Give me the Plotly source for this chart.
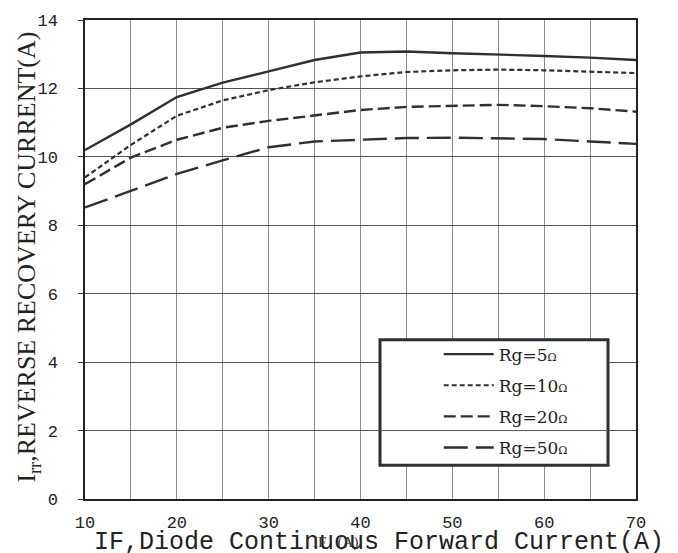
import plotly.graph_objects as go

IF = [10, 15, 20, 25, 30, 35, 40, 45, 50, 55, 60, 65, 70]
rg5 = [10.2, 10.95, 11.75, 12.17, 12.5, 12.83, 13.05, 13.08, 13.03, 13.0, 12.95, 12.9, 12.83]
rg10 = [9.4, 10.35, 11.2, 11.65, 11.95, 12.18, 12.35, 12.48, 12.53, 12.55, 12.53, 12.5, 12.45]
rg20 = [9.2, 9.98, 10.5, 10.85, 11.05, 11.22, 11.37, 11.46, 11.5, 11.52, 11.48, 11.42, 11.32]
rg50 = [8.52, 9.02, 9.5, 9.9, 10.28, 10.45, 10.5, 10.55, 10.56, 10.55, 10.52, 10.45, 10.38]
names = ["Rg=5", "Rg=10", "Rg=20", "Rg=50"]
series = [rg5, rg10, rg20, rg50]
dashes = ["solid", "5px,3px", "12px,5px", "24px,8px"]
widths = [2.4, 2.2, 2.4, 2.4]

LINE = "#2b2f36"
MONO = "Liberation Mono, Courier New, monospace"
SERIF = "Liberation Serif, Times New Roman, serif"
WSERIF = "DejaVu Serif, serif"

fig = go.Figure()
for i, (nm, ys) in enumerate(zip(names, series)):
    fig.add_trace(go.Scatter(
        x=IF, y=ys, mode="lines",
        name=nm + "<span style='font-size:11px'>Ω</span>",
        legendgroup=f"g{i}",
        line=dict(color=LINE, width=widths[i], dash=dashes[i]),
    ))

# legend frame
lx0, lx1, ly0, ly1 = 0.5354, 0.9492, 0.0702, 0.3326
fig.add_shape(type="rect", xref="paper", yref="paper", x0=lx0, x1=lx1, y0=ly0, y1=ly1,
              line=dict(color="#2b2f36", width=3), fillcolor="white", layer="above")
fig.add_shape(type="line", xref="paper", yref="y", x0=lx0, x1=lx1, y0=2, y1=2,
              line=dict(color="#555", width=1), layer="above")

fig.update_layout(
    width=678, height=553,
    margin=dict(l=85, r=42, t=14, b=54),
    paper_bgcolor="white", plot_bgcolor="white",
    showlegend=True,
    legend=dict(x=0.642, y=0.339, xanchor="left", yanchor="top",
                bgcolor="rgba(0,0,0,0)", borderwidth=0,
                font=dict(family=WSERIF, size=17, color="#222"),
                tracegroupgap=6, itemwidth=50),
    xaxis=dict(range=[10, 70], tickvals=[10, 20, 30, 40, 50, 60, 70],
               showgrid=False, zeroline=False,
               showline=True, linecolor="#222", linewidth=1.5, mirror=True,
               ticks="", tickfont=dict(family=MONO, size=17, color="#222"),
               ticklabelstandoff=7),
    yaxis=dict(range=[0, 14], dtick=2, showgrid=True, gridcolor="#555", gridwidth=1,
               zeroline=False, showline=True, linecolor="#222", linewidth=1.5, mirror=True,
               ticks="outside", ticklen=5, tickcolor="#333",
               tickfont=dict(family=MONO, size=17, color="#222"),
               ticklabelstandoff=17),
    annotations=[
        dict(text="IF,Diode Continuous Forward Current(A)", xref="paper", yref="paper",
             x=0.5336, y=-0.0909, xanchor="center", yanchor="middle", showarrow=False,
             font=dict(family=MONO, size=25, color="#222")),
        dict(text="IF   (A)", xref="paper", yref="paper",
             x=0.455, y=-0.0909, xanchor="center", yanchor="middle", showarrow=False,
             font=dict(family=SERIF, size=15, color="#333")),
        dict(text="I<sub>rr</sub>,REVERSE RECOVERY CURRENT(A)", xref="paper", yref="paper",
             x=-0.1034, y=0.504, xanchor="center", yanchor="middle", textangle=-90,
             showarrow=False, font=dict(family=SERIF, size=26, color="#222")),
    ],
)
# vertical grid lines every 5 via minor grid
fig.update_xaxes(minor=dict(dtick=5, tick0=10, showgrid=True, gridcolor="#8c8c8c", gridwidth=1.3))

fig.write_html("out.html")
